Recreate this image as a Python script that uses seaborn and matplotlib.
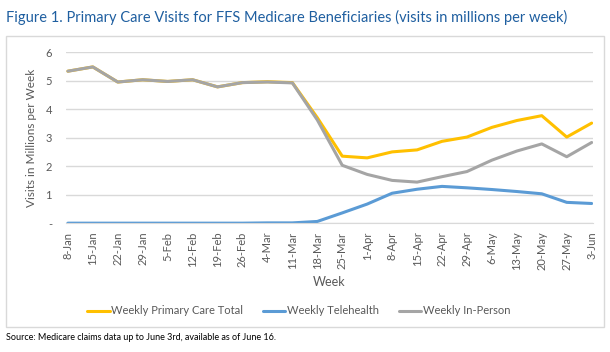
import numpy as np
import pandas as pd
import seaborn as sns
import matplotlib.pyplot as plt
from matplotlib.patches import Rectangle

weeks = ['8-Jan', '15-Jan', '22-Jan', '29-Jan', '5-Feb', '12-Feb', '19-Feb', '26-Feb',
         '4-Mar', '11-Mar', '18-Mar', '25-Mar', '1-Apr', '8-Apr', '15-Apr', '22-Apr',
         '29-Apr', '6-May', '13-May', '20-May', '27-May', '3-Jun']
total = [5.33, 5.48, 4.95, 5.03, 4.97, 5.03, 4.78, 4.93, 4.96, 4.93, 3.70, 2.35,
         2.29, 2.50, 2.57, 2.87, 3.02, 3.36, 3.60, 3.77, 3.02, 3.51]
tele = [0.0, 0.0, 0.0, 0.0, 0.0, 0.0, 0.0, 0.0, 0.01, 0.01, 0.06, 0.36,
        0.67, 1.05, 1.19, 1.29, 1.24, 1.18, 1.11, 1.03, 0.73, 0.69]
inperson = [5.33, 5.48, 4.95, 5.03, 4.97, 5.03, 4.78, 4.93, 4.95, 4.92, 3.62, 2.03,
            1.71, 1.50, 1.44, 1.63, 1.81, 2.21, 2.53, 2.78, 2.33, 2.83]

names = ['Weekly Primary Care Total', 'Weekly Telehealth', 'Weekly In-Person']
colors = ['#FFC000', '#5B9BD5', '#A5A5A5']

df = pd.DataFrame({'idx': list(range(len(weeks))) * 3,
                   'value': total + tele + inperson,
                   'series': [names[0]] * len(weeks) + [names[1]] * len(weeks) + [names[2]] * len(weeks)})

sns.set_style('white')
plt.rcParams['font.family'] = ['Lato', 'DejaVu Sans']

fig = plt.figure(figsize=(6.1, 3.52), dpi=100)
ax = fig.add_axes([0.108, 0.366, 0.864, 0.486])

# chart frame
fig.patches.append(Rectangle((6 / 610, 1 - 327 / 352), 598 / 610, 291 / 352,
                             transform=fig.transFigure, fill=False,
                             edgecolor='#D9D9D9', linewidth=1))

# in-person drawn last, on top like Excel
sns.lineplot(data=df, x='idx', y='value', hue='series', hue_order=names,
             palette=colors, linewidth=2.2, ax=ax, legend=False)

ax.set_ylim(0, 6)
ax.set_xlim(-0.08, 21.05)
ax.set_yticks(range(7))
ax.set_yticklabels(['-', '1', '2', '3', '4', '5', '6'])
ax.set_xticks(range(len(weeks)))
ax.set_xticklabels(weeks, rotation=90)
ax.tick_params(axis='both', labelsize=8, colors='#595959', length=0, pad=10)
ax.tick_params(axis='x', length=3, color='#D9D9D9', pad=3)
ax.yaxis.grid(True, color='#D9D9D9', linewidth=1)
ax.set_axisbelow(True)
for s in ['top', 'right', 'left']:
    ax.spines[s].set_visible(False)
ax.spines['bottom'].set_color('#D9D9D9')
ax.set_xlabel('Week', fontsize=9, color='#595959', labelpad=4)
ax.set_ylabel('Visits in Millions per Week', fontsize=8.5, color='#595959', labelpad=6)

handles = [plt.Line2D([], [], color=c, linewidth=2.2) for c in colors]
fig.legend(handles, names, loc='center', bbox_to_anchor=(0.49, 1 - 311 / 352), ncol=3,
           frameon=False, fontsize=8, labelcolor='#595959', handlelength=2.0,
           handletextpad=0.15, columnspacing=1.8)

fig.text(6 / 610, 1 - 17 / 352, 'Figure 1. Primary Care Visits for FFS Medicare Beneficiaries (visits in millions per week)',
         fontsize=10.5, color='#1F5FA0', va='center', ha='left')
fig.text(6 / 610, 1 - 337 / 352, 'Source: Medicare claims data up to June 3rd, available as of June 16.',
         fontsize=6.5, color='black', va='center', ha='left')

fig.savefig('out.png', dpi=100)
